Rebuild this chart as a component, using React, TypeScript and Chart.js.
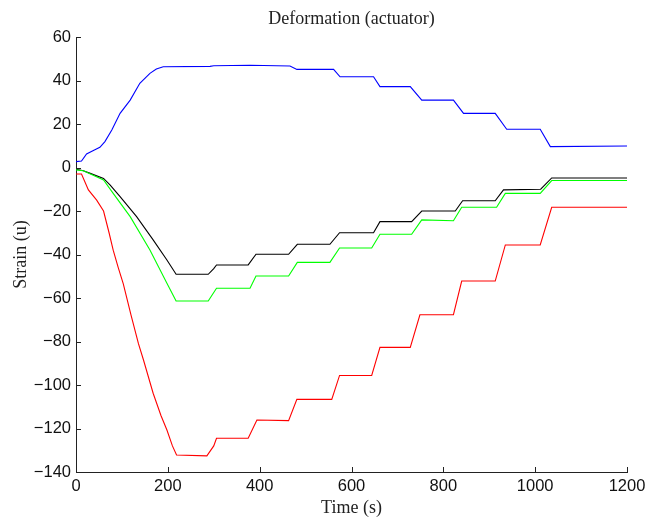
import React, { useEffect, useRef } from "react";
import { Chart, registerables } from "chart.js";

Chart.register(...registerables);

const titleText = "Deformation (actuator)";
const xLabel = "Time (s)";
const yLabel = "Strain (u)";
const xTicks = [0, 200, 400, 600, 800, 1000, 1200];
const yTicks = [60, 40, 20, 0, -20, -40, -60, -80, -100, -120, -140];

const blueT = [0, 12, 23, 40, 52, 63, 78, 96, 118, 139, 161, 175, 190, 292, 300, 379, 466, 481, 561, 575, 648, 662, 728, 753, 822, 844, 913, 938, 1011, 1033, 1200];
const blueV = [2.7, 3, 6.2, 8, 9.3, 11.9, 17.2, 24.9, 31, 38.7, 43.3, 45.3, 46.3, 46.5, 46.8, 47.0, 46.7, 45.1, 45.1, 41.7, 41.7, 37.2, 37.2, 31, 31, 24.9, 24.9, 17.6, 17.6, 9.6, 9.9];

const blackT = [0, 16, 31, 60, 74, 96, 132, 168, 198, 218, 288, 300, 306, 375, 392, 463, 482, 553, 574, 648, 662, 731, 753, 826, 842, 913, 931, 1012, 1036, 1200];
const blackV = [-0.8, -1.5, -2.7, -5, -8, -13.4, -22.6, -33.3, -42.5, -49.1, -49.1, -46.5, -44.8, -44.8, -39.9, -39.9, -35.3, -35.3, -30, -30, -24.9, -24.9, -20, -20, -15.3, -15.3, -10.3, -10, -4.8, -4.8];

const greenT = [0, 16, 60, 81, 118, 161, 198, 218, 288, 306, 379, 392, 463, 482, 553, 574, 644, 662, 731, 753, 822, 840, 916, 935, 1011, 1036, 1200];
const greenV = [-1.1, -1.5, -5.7, -11.9, -22.6, -37.9, -53.2, -61.4, -61.4, -55.5, -55.5, -49.9, -49.9, -43.6, -43.6, -37, -37, -30.7, -30.7, -24.1, -24.5, -18.3, -18.3, -11.9, -11.9, -6, -6];

const redT = [0, 12, 27, 45, 60, 72, 81, 92, 103, 120, 136, 147, 168, 185, 198, 210, 219, 285, 300, 306, 375, 394, 463, 481, 557, 574, 644, 662, 728, 749, 822, 840, 913, 935, 1011, 1036, 1200];
const redV = [-3, -3, -10.3, -15, -20, -30, -38, -46, -53.5, -68, -81, -88.5, -103.8, -114, -120.7, -128, -132.2, -132.6, -128, -124.5, -124.5, -116.1, -116.4, -106.6, -106.6, -95.6, -95.6, -82.7, -82.7, -67.7, -67.7, -52.2, -52.2, -35.6, -35.6, -18.3, -18.3];

const toPoints = (t: number[], v: number[]) => t.map((x, i) => ({ x, y: v[i] }));

const AXIS_COLOR = "#222";

const inwardTicks = {
  id: "inwardTicks",
  afterDraw(chart: any) {
    const { ctx, chartArea, scales } = chart;
    ctx.save();
    ctx.strokeStyle = AXIS_COLOR;
    ctx.lineWidth = 1;
    ctx.beginPath();
    xTicks.forEach((v) => {
      const px = Math.round(scales.x.getPixelForValue(v)) + 0.5;
      ctx.moveTo(px, chartArea.bottom);
      ctx.lineTo(px, chartArea.bottom - 5);
    });
    yTicks.forEach((v) => {
      const py = Math.round(scales.y.getPixelForValue(v)) + 0.5;
      ctx.moveTo(chartArea.left, py);
      ctx.lineTo(chartArea.left + 5, py);
    });
    ctx.stroke();
    ctx.restore();
  },
};

export default function App() {
  const ref = useRef<HTMLCanvasElement | null>(null);
  useEffect(() => {
    if (!ref.current) return;
    const tickFont = { family: "'Liberation Sans', Arial, sans-serif", size: 16.5 };
    const serif = "'Liberation Serif', 'Times New Roman', serif";
    const chart = new Chart(ref.current, {
      type: "line",
      data: {
        datasets: [
          { label: "blue", data: toPoints(blueT, blueV), borderColor: "#0000ff" },
          { label: "red", data: toPoints(redT, redV), borderColor: "#ff0000" },
          { label: "green", data: toPoints(greenT, greenV), borderColor: "#00ff00" },
          { label: "black", data: toPoints(blackT, blackV), borderColor: "#000000" },
        ].map((d) => ({ ...d, borderWidth: 1.1, pointRadius: 0, tension: 0, fill: false })),
      },
      plugins: [inwardTicks],
      options: {
        responsive: false,
        animation: false,
        events: [],
        layout: { padding: { left: 0, right: 21, top: 0, bottom: 0 } },
        plugins: {
          legend: { display: false },
          tooltip: { enabled: false },
          title: {
            display: true,
            text: titleText,
            fullSize: false,
            color: "#222",
            font: { family: serif, size: 18, weight: "normal", lineHeight: 1.2 },
            padding: { top: 8.2, bottom: 7.2 },
          },
        },
        scales: {
          x: {
            type: "linear",
            min: 0,
            max: 1200,
            afterFit: (s: any) => { s.height = 46; s.paddingRight = 0; s.paddingLeft = 0; },
            afterBuildTicks: (s: any) => { s.ticks = xTicks.map((value) => ({ value })); },
            grid: { drawOnChartArea: false, drawTicks: false },
            border: { display: true, color: AXIS_COLOR, width: 1 },
            ticks: {
              color: "#111",
              font: tickFont,
              padding: 5,
              maxRotation: 0,
              autoSkip: false,
              callback: (v: any) => String(v),
            },
            title: {
              display: true,
              text: xLabel,
              color: "#222",
              font: { family: serif, size: 18, lineHeight: 1 },
              padding: { top: 0, bottom: 1 },
            },
          },
          y: {
            type: "linear",
            min: -140,
            max: 60,
            afterFit: (s: any) => { s.width = 76; },
            afterBuildTicks: (s: any) => { s.ticks = yTicks.slice().reverse().map((value) => ({ value })); },
            grid: { drawOnChartArea: false, drawTicks: false },
            border: { display: true, color: AXIS_COLOR, width: 1 },
            ticks: {
              color: "#111",
              font: tickFont,
              padding: 5,
              autoSkip: false,
              callback: (v: any) => String(v).replace("-", "\u2212"),
            },
            title: {
              display: true,
              text: yLabel,
              color: "#222",
              font: { family: serif, size: 18, lineHeight: 1.2 },
              padding: { top: 10.7, bottom: 0 },
            },
          },
        },
      },
    } as any);
    return () => chart.destroy();
  }, []);
  return (
    <div style={{ position: "absolute", left: 0, top: 0, width: 648, height: 518, background: "#fff" }}>
      <canvas ref={ref} width={648} height={518} style={{ display: "block" }} />
    </div>
  );
}
